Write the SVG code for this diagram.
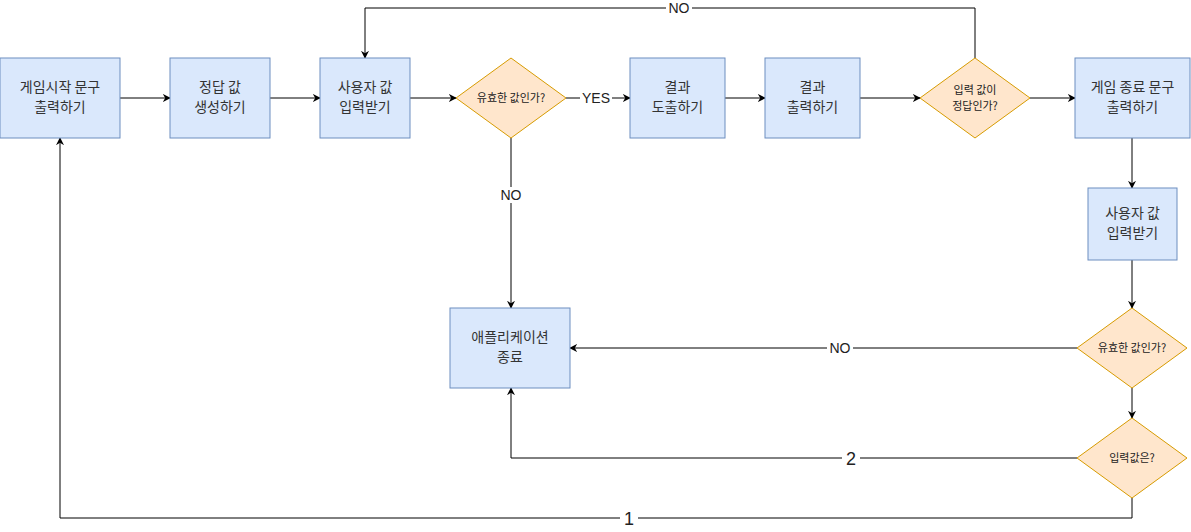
<svg xmlns="http://www.w3.org/2000/svg" width="1191" height="532" viewBox="0 0 1191 532">
<defs>
<marker id="arr" viewBox="0 0 10 10" refX="9" refY="5" markerWidth="8" markerHeight="8" markerUnits="userSpaceOnUse" orient="auto">
<path d="M0,0 L10,5 L0,10 L3,5 Z" fill="#000"/>
</marker>
</defs>
<style>
.box{fill:#dae8fc;stroke:#6c8ebf;stroke-width:1}
.dia{fill:#ffe6cc;stroke:#d79b00;stroke-width:1}
.t{font-family:"Noto Sans CJK KR","Liberation Sans",sans-serif;font-size:14px;fill:#333;text-anchor:middle}
.td{font-family:"Noto Sans CJK KR","Liberation Sans",sans-serif;font-size:11px;fill:#222;text-anchor:middle}
.e{fill:none;stroke:#000;stroke-width:1;marker-end:url(#arr)}
.lb{font-family:"Liberation Sans",sans-serif;font-size:14px;fill:#222;text-anchor:middle}
.lbg{fill:#fff}
</style>
<g id="connectors">
<path class="e" d="M120,98 L170,98"/>
<path class="e" d="M270,98 L320,98"/>
<path class="e" d="M410,98 L456,98"/>
<path class="e" d="M566,98 L630,98"/>
<path class="e" d="M725,98 L765,98"/>
<path class="e" d="M860,98 L920,98"/>
<path class="e" d="M1030,98 L1075,98"/>
<path class="e" d="M975,58 L975,8 L365,8 L365,58"/>
<path class="e" d="M511,138 L511,308"/>
<path class="e" d="M1132,138 L1132,188"/>
<path class="e" d="M1132,260 L1132,308"/>
<path class="e" d="M1077,348 L570,348"/>
<path class="e" d="M1132,388 L1132,418"/>
<path class="e" d="M1077,458 L511,458 L511,388"/>
<path class="e" d="M1132,498 L1132,518 L60,518 L60,138"/>
<rect class="lbg" x="580" y="90" width="32" height="16"/>
<text class="lb" x="596" y="103">YES</text>
<rect class="lbg" x="666" y="1" width="26" height="15"/>
<text class="lb" x="679" y="13">NO</text>
<rect class="lbg" x="498" y="187" width="26" height="16"/>
<text class="lb" x="511" y="200">NO</text>
<rect class="lbg" x="827" y="340" width="26" height="16"/>
<text class="lb" x="840" y="353">NO</text>
<rect class="lbg" x="842" y="448" width="18" height="20"/>
<text class="lb" x="851" y="465" style="font-size:18px">2</text>
<rect class="lbg" x="620" y="508" width="18" height="20"/>
<text class="lb" x="629" y="525" style="font-size:18px">1</text>
</g>
<g id="n1"><rect class="box" x="0" y="58" width="120" height="80"/><text class="t" x="60" y="92">게임시작 문구</text><text class="t" x="60" y="112">출력하기</text></g>
<g id="n2"><rect class="box" x="170" y="58" width="100" height="80"/><text class="t" x="220" y="92">정답 값</text><text class="t" x="220" y="112">생성하기</text></g>
<g id="n3"><rect class="box" x="320" y="58" width="90" height="80"/><text class="t" x="365" y="92">사용자 값</text><text class="t" x="365" y="112">입력받기</text></g>
<g id="n4"><path class="dia" d="M511,58 L566,98 L511,138 L456,98 Z"/><text class="td" x="511" y="102">유효한 값인가?</text></g>
<g id="n5"><rect class="box" x="630" y="58" width="95" height="80"/><text class="t" x="677.500" y="92">결과</text><text class="t" x="677.500" y="112">도출하기</text></g>
<g id="n6"><rect class="box" x="765" y="58" width="95" height="80"/><text class="t" x="812.500" y="92">결과</text><text class="t" x="812.500" y="112">출력하기</text></g>
<g id="n7"><path class="dia" d="M975,58 L1030,98 L975,138 L920,98 Z"/><text class="td" x="975" y="94">입력 값이</text><text class="td" x="975" y="110">정답인가?</text></g>
<g id="n8"><rect class="box" x="1075" y="58" width="115" height="80"/><text class="t" x="1132.500" y="92">게임 종료 문구</text><text class="t" x="1132.500" y="112">출력하기</text></g>
<g id="n9"><rect class="box" x="1088" y="188" width="89" height="72"/><text class="t" x="1132.500" y="218">사용자 값</text><text class="t" x="1132.500" y="238">입력받기</text></g>
<g id="n10"><path class="dia" d="M1132,308 L1187,348 L1132,388 L1077,348 Z"/><text class="td" x="1132" y="352">유효한 값인가?</text></g>
<g id="n11"><path class="dia" d="M1132,418 L1187,458 L1132,498 L1077,458 Z"/><text class="td" x="1132" y="462">입력값은?</text></g>
<g id="n12"><rect class="box" x="450" y="308" width="120" height="80"/><text class="t" x="510" y="342">애플리케이션</text><text class="t" x="510" y="362">종료</text></g>
</svg>
